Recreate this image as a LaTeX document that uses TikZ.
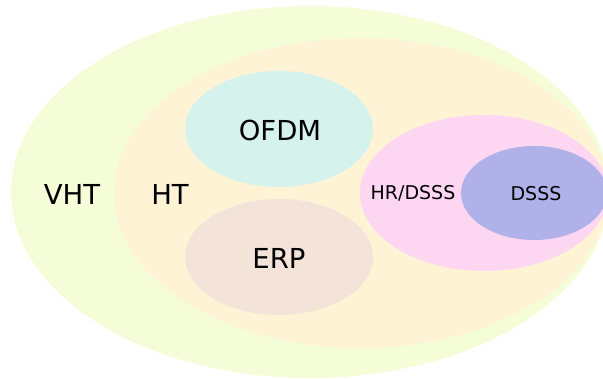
\documentclass[tikz,border=0pt]{standalone}
\usepackage{fontspec}
\setmainfont{DejaVu Sans}
\usetikzlibrary{shapes.geometric}

\definecolor{vhtcol}{RGB}{245,253,216}
\definecolor{htcol}{RGB}{254,244,213}
\definecolor{ofdmcol}{RGB}{213,242,236}
\definecolor{erpcol}{RGB}{243,227,216}
\definecolor{hrcol}{RGB}{253,214,242}
\definecolor{dssscol}{RGB}{176,177,232}

\begin{document}
\begin{tikzpicture}[x=1pt, y=-1pt, set/.style={ellipse,draw=none,inner sep=0pt}, big label/.style={font=\fontsize{27.5}{32}\selectfont}, small label/.style={font=\fontsize{19}{23}\selectfont}]

      \useasboundingbox (0,0) rectangle (603,378);
      \clip (0,0) rectangle (603,378);

      \node[set,fill=vhtcol,minimum width=598pt,minimum height=372pt] (vht) at (310,192) {};
      \node[set,fill=htcol,minimum width=494pt,minimum height=310pt] (ht) at (361,193) {};
      \node[set,fill=ofdmcol,minimum width=188pt,minimum height=116pt] (ofdm) at (279,129) {};
      \node[set,fill=erpcol,minimum width=188pt,minimum height=116pt] (erp) at (279,257) {};
      \node[set,fill=hrcol,minimum width=248pt,minimum height=156pt] (hr) at (484,193) {};
      \node[set,fill=dssscol,minimum width=146pt,minimum height=94pt] (dsss) at (534,193) {};

      \node[big label] (vhtlabel) at (72,194) {VHT};
      \node[big label] (htlabel) at (170,194) {HT};
      \node[big label] (ofdmlabel) at (280,130) {OFDM};
      \node[big label] (erplabel) at (279,258) {ERP};
      \node[small label] (hrlabel) at (413,193) {HR/DSSS};
      \node[small label] (dssslabel) at (536,194) {DSSS};

\end{tikzpicture}
\end{document}
